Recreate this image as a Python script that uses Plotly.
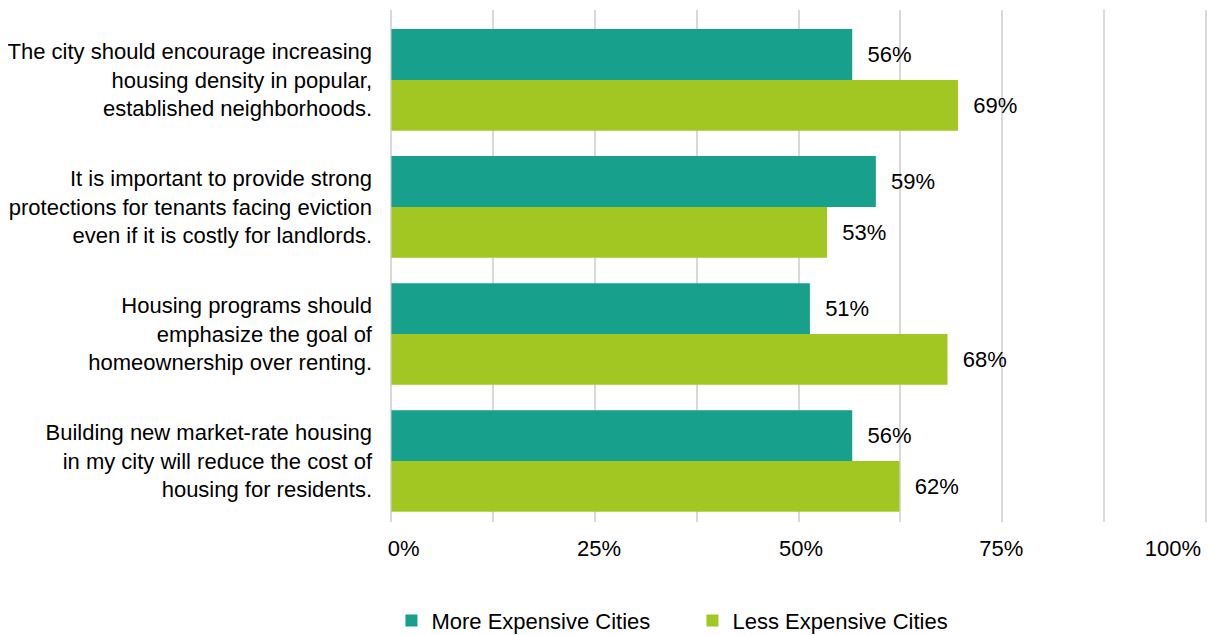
import plotly.graph_objects as go

categories = [
    "The city should encourage increasing<br>housing density in popular,<br>established neighborhoods.",
    "It is important to provide strong<br>protections for tenants facing eviction<br>even if it is costly for landlords.",
    "Housing programs should<br>emphasize the goal of<br>homeownership over renting.",
    "Building new market-rate housing<br>in my city will reduce the cost of<br>housing for residents.",
]
more_expensive = [56.6, 59.5, 51.4, 56.6]
more_labels = ["56%", "59%", "51%", "56%"]
less_expensive = [69.6, 53.5, 68.3, 62.4]
less_labels = ["69%", "53%", "68%", "62%"]
tick_vals = [1.5, 25.5, 50.3, 74.9, 96.0]
tick_text = ["0%", "25%", "50%", "75%", "100%"]
grid_vals = [0, 12.5, 25, 37.5, 50, 62.5, 75, 87.5, 100]

FONT = "Liberation Sans, Arial, sans-serif"
FS = 22
TEAL = "#17A08C"
GREEN = "#A2C723"

fig = go.Figure()
fig.add_trace(go.Bar(
    y=categories, x=more_expensive, orientation="h", name="More Expensive Cities",
    marker=dict(color=TEAL, line=dict(width=0)),
    text=more_labels, texttemplate="\u00a0\u00a0%{text}", textposition="outside", cliponaxis=False,
    textfont=dict(size=FS, color="#000000", family=FONT),
))
fig.add_trace(go.Bar(
    y=categories, x=less_expensive, orientation="h", name="Less Expensive Cities",
    marker=dict(color=GREEN, line=dict(width=0)),
    text=less_labels, texttemplate="\u00a0\u00a0%{text}", textposition="outside", cliponaxis=False,
    textfont=dict(size=FS, color="#000000", family=FONT),
))

fig.update_layout(
    width=1212, height=627,
    margin=dict(l=380.55, r=11.55, t=2, b=113, autoexpand=False),
    paper_bgcolor="white", plot_bgcolor="white",
    font=dict(family=FONT, size=FS, color="#000000"),
    barmode="group", bargap=0.2, bargroupgap=0,
    showlegend=True,
    legend=dict(orientation="h", x=0.003, y=-0.193, xanchor="left", yanchor="middle",
                font=dict(size=FS, family=FONT), itemwidth=30, tracegroupgap=0,
                entrywidth=256, entrywidthmode="pixels", traceorder="normal"),
    xaxis=dict(range=[-0.3, 100.3], tickvals=tick_vals, ticktext=tick_text, showgrid=False,
               zeroline=False, showline=False, ticks="", ticklabelstandoff=11,
               tickfont=dict(size=FS, family=FONT),
               minor=dict(tickvals=grid_vals, showgrid=True,
                          gridcolor="#D9D9D9", gridwidth=1.5)),
    yaxis=dict(categoryorder="array", categoryarray=categories, range=[3.48, -0.55],
               showgrid=False, zeroline=False, showline=False, ticks="",
               ticklabelstandoff=16, tickfont=dict(size=FS, family=FONT)),
)

fig.write_html("out.html")
